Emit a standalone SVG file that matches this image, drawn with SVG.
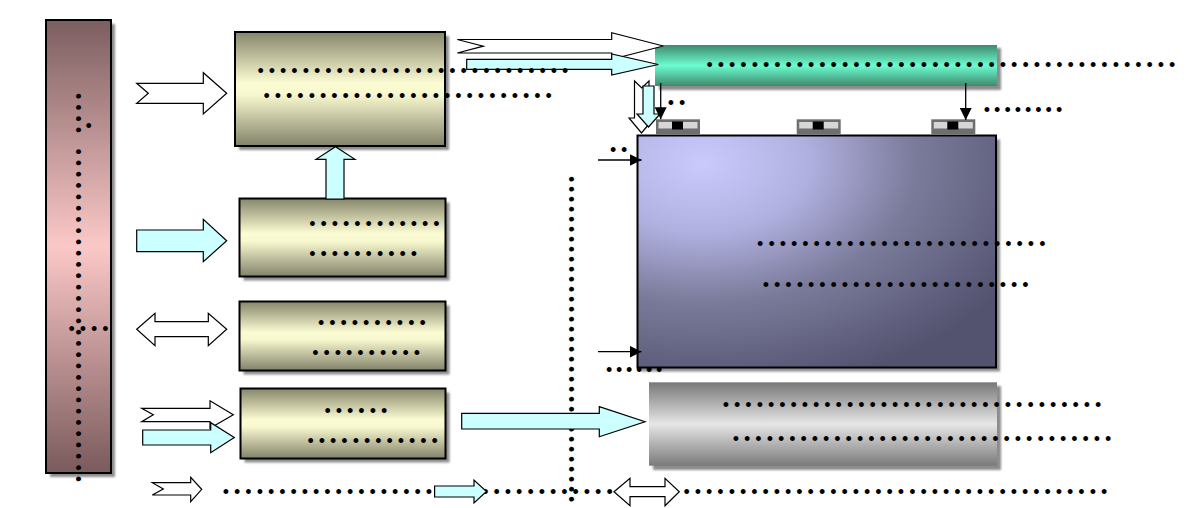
<svg xmlns="http://www.w3.org/2000/svg" width="1198" height="508" viewBox="0 0 1198 508">
<defs>
<style>
.d{font-family:"Liberation Sans",Arial,sans-serif;font-size:18px;letter-spacing:4.98px;fill:#000}
.d10{letter-spacing:3.7px}
.bd{stroke:#000;stroke-width:2}
.sh{fill:#8c8c8c;filter:url(#blur)}
.wa{fill:#fff;stroke:#000;stroke-width:1.2}
.ca{fill:#ccffff;stroke:#000;stroke-width:1.2}
.ln{stroke:#000;stroke-width:1.3;fill:none;marker-end:url(#ah)}
.chipo{fill:#6e6e6e}
.chipi{fill:#d6d6d6}
</style>
<filter id="blur" x="-10%" y="-10%" width="120%" height="120%"><feGaussianBlur stdDeviation="1"/></filter>
<marker id="ah" viewBox="0 0 10 10" refX="10" refY="5" markerWidth="12" markerHeight="12" markerUnits="userSpaceOnUse" orient="auto"><path d="M0,0 L10,5 L0,10 z" fill="#000"/></marker>
<linearGradient id="gBar" x1="0" y1="0" x2="0" y2="1">
<stop offset="0" stop-color="#7c5e60"/><stop offset="0.5" stop-color="#fbc8c7"/><stop offset="1" stop-color="#7a5a5c"/>
</linearGradient>
<linearGradient id="gOl" x1="0" y1="0" x2="0" y2="1">
<stop offset="0" stop-color="#86866a"/><stop offset="0.45" stop-color="#fcfcd4"/><stop offset="0.55" stop-color="#f8f8cf"/><stop offset="1" stop-color="#82826a"/>
</linearGradient>
<linearGradient id="gGr" x1="0" y1="0" x2="0" y2="1">
<stop offset="0" stop-color="#3e8a6c"/><stop offset="0.5" stop-color="#6cfcd0"/><stop offset="1" stop-color="#3e8a6c"/>
</linearGradient>
<linearGradient id="gGy" x1="0" y1="0" x2="0" y2="1">
<stop offset="0" stop-color="#787878"/><stop offset="0.5" stop-color="#e6e6e6"/><stop offset="1" stop-color="#7a7a7a"/>
</linearGradient>
<radialGradient id="gPu" cx="0.18" cy="0.12" r="1" fx="0.18" fy="0.12">
<stop offset="0" stop-color="#cacafd"/><stop offset="0.3" stop-color="#b0b0e0"/><stop offset="0.6" stop-color="#7a7a9a"/><stop offset="1" stop-color="#535370"/>
</radialGradient>
</defs>
<rect width="1198" height="508" fill="#fff"/>

<g id="bar-left">
<rect class="sh" x="50" y="24" width="65" height="453"/>
<rect class="bd" x="46" y="20" width="65" height="453" fill="url(#gBar)"/>
</g>
<g id="box1">
<rect class="sh" x="239" y="36" width="210" height="114"/>
<rect class="bd" x="235" y="32" width="210" height="114" fill="url(#gOl)"/>
</g>
<g id="box2">
<rect class="sh" x="243.5" y="202.5" width="206" height="78"/>
<rect class="bd" x="239.5" y="198.5" width="206" height="78" fill="url(#gOl)"/>
</g>
<g id="box3">
<rect class="sh" x="243.5" y="305.5" width="206" height="69"/>
<rect class="bd" x="239.5" y="301.5" width="206" height="69" fill="url(#gOl)"/>
</g>
<g id="box4">
<rect class="sh" x="244.5" y="392.5" width="205" height="70"/>
<rect class="bd" x="240.5" y="388.5" width="205" height="70" fill="url(#gOl)"/>
</g>
<g id="green-bus">
<rect class="sh" x="659" y="48" width="342" height="42"/>
<rect x="655" y="45" width="342" height="41" fill="url(#gGr)"/>
</g>
<g id="purple-box">
<rect class="sh" x="641" y="139.5" width="359" height="232"/>
<rect class="bd" x="637.5" y="135.5" width="358.5" height="232" fill="url(#gPu)"/>
</g>
<g id="ports">
<g id="port1"><rect class="chipo" x="656" y="119.3" width="44" height="15"/><rect class="chipi" x="658.5" y="122" width="39" height="6.5"/><rect x="672" y="121.5" width="11" height="8" fill="#000"/></g>
<g id="port2"><rect class="chipo" x="796.7" y="119.3" width="44" height="15"/><rect class="chipi" x="799.2" y="122" width="39" height="6.5"/><rect x="812.7" y="121.5" width="11" height="8" fill="#000"/></g>
<g id="port3"><rect class="chipo" x="931.3" y="119.3" width="44" height="15"/><rect class="chipi" x="933.8" y="122" width="39" height="6.5"/><rect x="947.3" y="121.5" width="11" height="8" fill="#000"/></g>
</g>
<g id="gray-box">
<rect class="sh" x="653" y="386" width="348" height="84"/>
<rect x="649" y="382.3" width="348" height="83.4" fill="url(#gGy)"/>
</g>

<g id="dotted-lines">
<text class="d" transform="rotate(90 72 92.9)" x="72" y="92.9">••••</text>
<text class="d" x="85.5" y="132.3">•</text>
<text class="d" transform="rotate(90 72 148.5)" x="72" y="148.5">••••••••••••••••••••••••••••••</text>
<text class="d" x="68.5" y="335">••••</text>
<text class="d d10" transform="rotate(90 565.4 175.9)" x="565.4" y="175.9">•••••••••••••••••••••••••••••••••</text>
<text class="d" x="222.8" y="497.8">•••••••••••••••••••••••••••••••••••</text>
<text class="d" x="683.5" y="497.8">••••••••••••••••••••••••••••••••••••••</text>
</g>

<g id="connectors">
<polygon class="wa" points="136.7,83.3 203.3,83.3 203.3,72.7 226.7,93.3 203.3,114 203.3,103.3 136.7,103.3 148.3,93.3"/>
<polygon class="ca" points="136.7,230 203.3,230 203.3,219.3 226.7,240.7 203.3,261.7 203.3,251.7 136.7,251.7"/>
<polygon class="wa" points="136.7,329.3 155,313.3 155,321.7 208.3,321.7 208.3,313.3 226.7,329.3 208.3,345.7 208.3,336.7 155,336.7 155,345.7"/>
<polygon class="wa" points="141.7,408.3 210,408.3 210,400.7 233.3,414.8 210,428.3 210,421.7 141.7,421.7 153.3,414.8"/>
<polygon class="ca" points="142.7,430 210.7,430 210.7,422.7 234.3,437.5 210.7,452.7 210.7,445 142.7,445"/>
<polygon class="wa" points="152.3,482.7 190.7,482.7 190.7,477.3 201.7,489.3 190.7,501.7 190.7,495 152.3,495 163.3,489"/>
<polygon class="ca" points="326,199 326,159.3 316,159.3 335.5,146.7 355,159.3 344,159.3 344,199"/>
<polygon class="wa" points="457.3,39.5 611.7,39.5 611.7,32.7 663.3,46 611.7,59.3 611.7,53 457.3,53 483.3,46.2"/>
<polygon class="ca" points="466.7,59.3 611.7,59.3 611.7,54 658.3,64.5 611.7,75 611.7,69.3 466.7,69.3"/>
<polygon class="wa" points="634.5,81 641.75,88 649,81 649,118 654,118 641.5,133 629,118 634.5,118"/>
<polygon class="ca" points="643,86 654,86 654,114 660,114 648.5,127 637,114 643,114"/>
<line class="ln" x1="660.7" y1="83" x2="660.7" y2="119.3"/>
<line class="ln" x1="965.7" y1="83" x2="965.7" y2="120"/>
<line class="ln" x1="598" y1="160" x2="641.5" y2="160"/>
<line class="ln" x1="598" y1="351.7" x2="641.5" y2="351.7"/>
<polygon class="ca" points="461.7,413.3 599.3,413.3 599.3,406.7 645,421.7 599.3,436.7 599.3,429 461.7,429"/>
<polygon class="ca" points="434.6,486 474,486 474,480 486.5,491.5 474,503 474,497 434.6,497"/>
<polygon class="wa" points="614,491.7 630,478.3 630,486.7 665,486.7 665,478.3 679.3,491.7 665,505.7 665,496.7 630,496.7 630,505.7"/>
</g>

<g id="labels">
<text class="d" x="257.5" y="77.3">••••••••••••••••••••••••••••</text>
<text class="d" x="263.5" y="102.3">••••••••••••••••••••••••••</text>
<text class="d" x="309.2" y="230">••••••••••••</text>
<text class="d" x="309.2" y="259.6">••••••••••</text>
<text class="d" x="317.9" y="329.3">••••••••••</text>
<text class="d" x="312.2" y="359.3">••••••••••</text>
<text class="d" x="324.5" y="417.3">••••••</text>
<text class="d" x="307.5" y="447.3">••••••••••••</text>
<text class="d" x="706.5" y="71">••••••••••••••••••••••••••••••••••••••••••</text>
<text class="d" x="667.8" y="109">••</text>
<text class="d" x="983.8" y="115.6" style="letter-spacing:4px">••••••••</text>
<text class="d" x="610.1" y="155.6" style="letter-spacing:4.7px">••</text>
<text class="d d10" x="606.1" y="375.6">••••••</text>
<text class="d" x="757.1" y="250.3">••••••••••••••••••••••••••</text>
<text class="d" x="762.8" y="291.3">••••••••••••••••••••••••</text>
<text class="d" x="722.8" y="410.6">••••••••••••••••••••••••••••••••••</text>
<text class="d" x="732.8" y="444.6">••••••••••••••••••••••••••••••••••</text>
</g>
</svg>
